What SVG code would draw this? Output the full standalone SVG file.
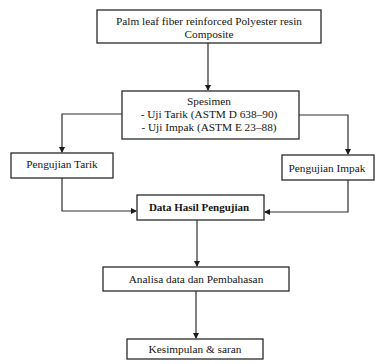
<svg xmlns="http://www.w3.org/2000/svg" width="378" height="364" viewBox="0 0 378 364">
<style>
.box{fill:#fff;stroke:#2a2a2a;stroke-width:1.3}
.t{font-family:"Liberation Serif","Times New Roman",serif;font-size:11.3px;fill:#151515;text-anchor:middle}
.b{font-weight:bold;font-size:11px}
.c{fill:none;stroke:#2e2e2e;stroke-width:1.2}
</style>
<defs>
<marker id="ah" markerWidth="6" markerHeight="6" refX="5" refY="3" orient="auto" markerUnits="userSpaceOnUse">
<path d="M0,0 L6,3 L0,6 Z" fill="#1a1a1a"/>
</marker>
</defs>
<rect width="378" height="364" fill="#fff"/>
<g id="connectors">
<path class="c" d="M208,43 V90" marker-end="url(#ah)"/>
<path class="c" d="M122,114 H62 V152" marker-end="url(#ah)"/>
<path class="c" d="M299,115 H348 V154" marker-end="url(#ah)"/>
<path class="c" d="M62,178 V211 H136" marker-end="url(#ah)"/>
<path class="c" d="M348,180 V212 H265" marker-end="url(#ah)"/>
<path class="c" d="M197,220 V266" marker-end="url(#ah)"/>
<path class="c" d="M196,291 V338" marker-end="url(#ah)"/>
</g>
<g id="n1">
<rect class="box" x="97" y="10" width="224" height="33"/>
<text class="t" x="209" y="25">Palm leaf fiber reinforced Polyester resin</text>
<text class="t" x="209" y="38">Composite</text>
</g>
<g id="n2">
<rect class="box" x="122" y="91" width="177" height="48"/>
<text class="t" x="209" y="105">Spesimen</text>
<text class="t" x="209" y="118">- Uji Tarik (ASTM D 638–90)</text>
<text class="t" x="209" y="131">- Uji Impak (ASTM E 23–88)</text>
</g>
<g id="n3">
<rect class="box" x="11" y="153" width="102" height="25"/>
<text class="t" x="62" y="168">Pengujian Tarik</text>
</g>
<g id="n4">
<rect class="box" x="282" y="155" width="92" height="25"/>
<text class="t" x="327" y="172">Pengujian Impak</text>
</g>
<g id="n5">
<rect class="box" x="137" y="195" width="127" height="25"/>
<text class="t b" x="199" y="211">Data Hasil Pengujian</text>
</g>
<g id="n6">
<rect class="box" x="103" y="267" width="186" height="24"/>
<text class="t" x="196" y="283">Analisa data dan Pembahasan</text>
</g>
<g id="n7">
<rect class="box" x="127" y="339" width="136" height="20"/>
<text class="t" x="195" y="353">Kesimpulan &amp; saran</text>
</g>
</svg>
